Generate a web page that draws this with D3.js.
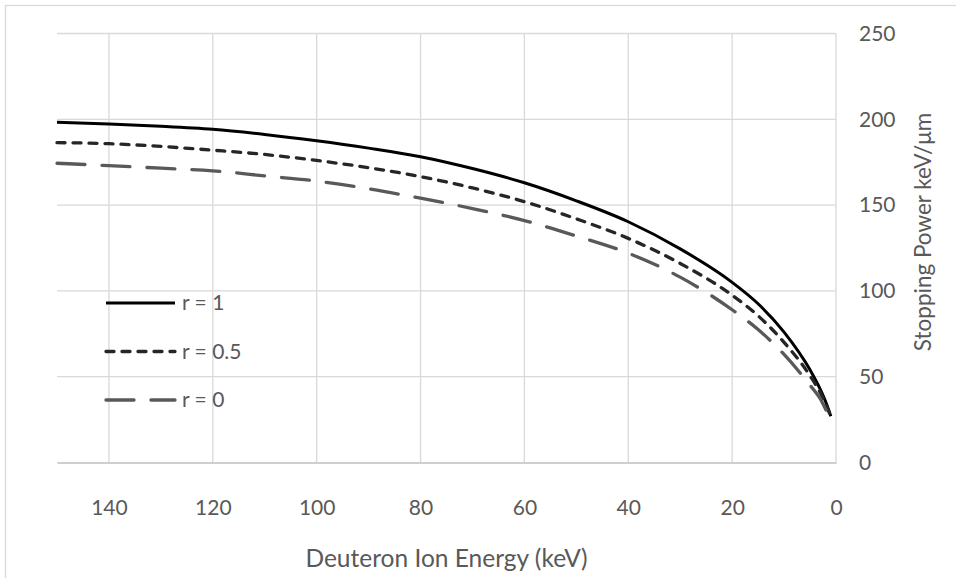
<!DOCTYPE html>
<html>
<head>
<meta charset="utf-8">
<script src="https://cdn.jsdelivr.net/npm/d3@7"></script>
<style>
    body { margin: 0; background: #fff; }
    text { font-family: Lato, "Open Sans", sans-serif; fill: #595959; }
</style>
</head>
<body>
<div class="stopping-power-chart"></div>
<script>
// deuteron energy (keV) and stopping power (keV/um)
var energy  = [150, 140, 130, 120, 110, 100, 90, 80, 70, 60, 50, 40, 30, 20, 15, 10, 5, 3, 2, 1];
var stopR1  = [198.3, 197.3, 196, 194.2, 191.2, 187.5, 183.2, 178.2, 171.3, 163, 152.5, 140.3, 124.5, 105, 92.5, 76, 54, 42.5, 35.5, 27];
var stopR05 = [186.4, 185.8, 184.2, 182, 179.5, 176, 171.8, 166.6, 160, 152, 142, 130.6, 116, 97.5, 85.5, 70, 50.5, 40.5, 34, 27];
var stopR0  = [174.4, 173, 171.5, 170, 167, 164, 159.5, 154, 148, 141, 132, 122, 108, 89, 77.5, 63, 45, 37, 31, 24.5];

var seriesNames = ["r = 1", "r = 0.5", "r = 0"];
var xTicks = [140, 120, 100, 80, 60, 40, 20, 0];
var yTicks = [0, 50, 100, 150, 200, 250];

(function() {
    var container = d3.select(".stopping-power-chart");
    var width = 956, height = 578;

    var plot = {left: 57, right: 836, top: 33.5, bottom: 462.5};
    var tickFont = "21px", titleFont = "24.5px";

    var svg = container.append("svg")
        .attr("width", width)
        .attr("height", height);

    // chart area border (runs past the right and bottom of the window)
    svg.append("rect")
        .attr("x", 5.5)
        .attr("y", 5.5)
        .attr("width", 1200)
        .attr("height", 1200)
        .style("fill", "none")
        .style("stroke", "#d9d9d9")
        .style("stroke-width", 1.3);

    var x = d3.scaleLinear().domain([150, 0]).range([plot.left, plot.right]);
    var y = d3.scaleLinear().domain([0, 250]).range([plot.bottom, plot.top]);

    // gridlines
    var grid = svg.append("g").classed("grid", true);
    grid.selectAll(".v-grid")
        .data(xTicks)
        .enter()
        .append("line")
            .classed("v-grid", true)
            .attr("x1", function(d) { return x(d); })
            .attr("x2", function(d) { return x(d); })
            .attr("y1", plot.top)
            .attr("y2", plot.bottom);
    grid.selectAll(".h-grid")
        .data(yTicks.filter(function(d) { return d > 0; }))
        .enter()
        .append("line")
            .classed("h-grid", true)
            .attr("x1", plot.left)
            .attr("x2", plot.right)
            .attr("y1", function(d) { return y(d); })
            .attr("y2", function(d) { return y(d); });
    grid.selectAll("line")
        .style("stroke", "#d9d9d9")
        .style("stroke-width", 1.3);

    // horizontal axis
    var xAxis = svg.append("g")
        .attr("transform", "translate(0, " + plot.bottom + ")")
        .call(d3.axisBottom(x).tickValues(xTicks).tickSize(0).tickPadding(0));
    xAxis.select(".domain").style("stroke", "#bfbfbf").style("stroke-width", 1.3);
    xAxis.selectAll("text")
        .attr("y", 45)
        .attr("dy", "0.35em")
        .style("font-size", tickFont)
        .style("fill", "#595959")
        .style("font-family", "Lato, 'Open Sans', sans-serif");

    // value axis on the right
    var yAxis = svg.append("g")
        .attr("transform", "translate(" + (plot.right + 23) + ", 0)")
        .call(d3.axisRight(y).tickValues(yTicks).tickSize(0).tickPadding(0));
    yAxis.select(".domain").remove();
    yAxis.selectAll("text")
        .style("font-size", tickFont)
        .style("fill", "#595959")
        .style("font-family", "Lato, 'Open Sans', sans-serif");

    svg.append("text")
        .attr("x", (plot.left + plot.right) / 2)
        .attr("y", 558)
        .attr("dy", "0.35em")
        .attr("text-anchor", "middle")
        .style("font-size", titleFont)
        .text("Deuteron Ion Energy (keV)");

    svg.append("text")
        .attr("transform", "translate(923, 232) rotate(-90)")
        .attr("dy", "0.35em")
        .attr("text-anchor", "middle")
        .style("font-size", "22.5px")
        .text("Stopping Power keV/\u03bcm");

    var styles = [
        {color: "#000000", dash: null, cap: "butt", w: 3},
        {color: "#262626", dash: "8,8", cap: "round", w: 3.3},
        {color: "#595959", dash: "28,17", cap: "round", w: 3.3}
    ];
    var series = [stopR1, stopR05, stopR0].map(function(vals, i) {
        return {name: seriesNames[i], style: styles[i], points: energy.map(function(e, j) { return [e, vals[j]]; })};
    });

    var line = d3.line()
        .x(function(d) { return x(d[0]); })
        .y(function(d) { return y(d[1]); })
        .curve(d3.curveMonotoneX);

    svg.append("g").classed("curves", true)
        .selectAll("path")
        .data(series)
        .enter()
        .append("path")
            .attr("d", function(d) { return line(d.points); })
            .style("fill", "none")
            .style("stroke", function(d) { return d.style.color; })
            .style("stroke-width", function(d) { return d.style.w; })
            .style("stroke-linecap", function(d) { return d.style.cap; })
            .style("stroke-dasharray", function(d) { return d.style.dash; });

    // legend inside the plot
    var legend = svg.append("g").classed("legend", true)
        .attr("transform", "translate(106, 303)");
    var items = legend.selectAll(".item")
        .data(series)
        .enter()
        .append("g")
            .classed("item", true)
            .attr("transform", function(d, idx) { return "translate(0, " + (idx * 48.5) + ")"; });
    items.append("line")
        .attr("x1", 0)
        .attr("x2", 69)
        .attr("y1", 0)
        .attr("y2", 0)
        .style("stroke", function(d) { return d.style.color; })
        .style("stroke-width", function(d) { return d.style.w; })
        .style("stroke-linecap", function(d) { return d.style.cap; })
        .style("stroke-dasharray", function(d) { return d.style.dash; });
    items.append("text")
        .attr("x", 76)
        .attr("dy", "0.35em")
        .style("font-size", tickFont)
        .text(function(d) { return d.name; });
})();
</script>
</body>
</html>
